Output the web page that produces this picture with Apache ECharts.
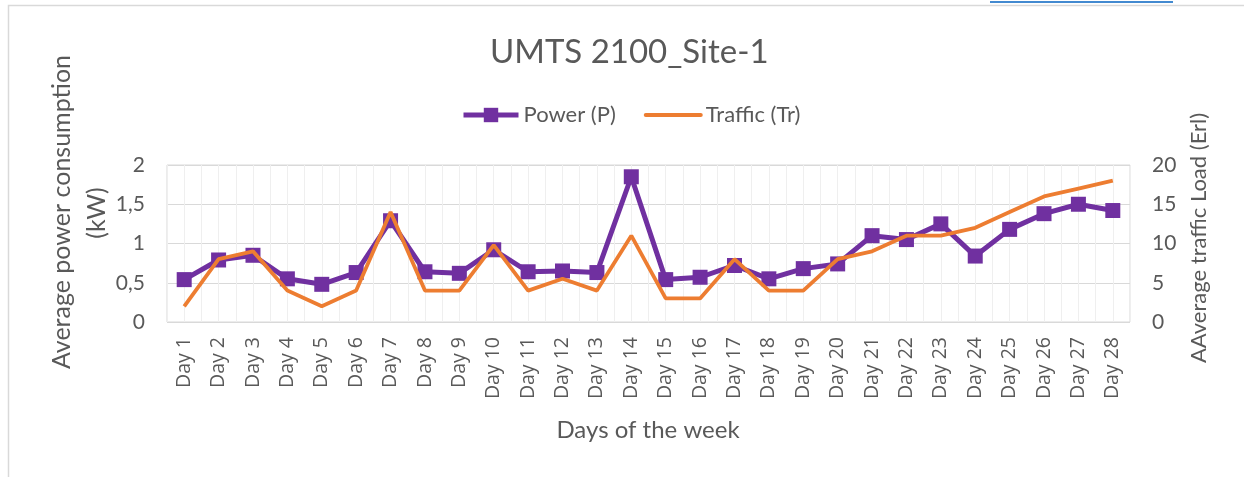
<!DOCTYPE html>
<html>
<head>
<meta charset="utf-8">
<script src="https://cdn.jsdelivr.net/npm/echarts@6/dist/echarts.min.js"></script>
<style>
html,body{margin:0;padding:0;background:#fff;}
#main{width:1244px;height:477px;}
</style>
</head>
<body>
<div id="main"></div>
<script>
const categories = ['Day 1','Day 2','Day 3','Day 4','Day 5','Day 6','Day 7','Day 8','Day 9','Day 10','Day 11','Day 12','Day 13','Day 14','Day 15','Day 16','Day 17','Day 18','Day 19','Day 20','Day 21','Day 22','Day 23','Day 24','Day 25','Day 26','Day 27','Day 28'];
const powerKW = [0.54,0.79,0.85,0.55,0.48,0.63,1.29,0.64,0.62,0.92,0.64,0.65,0.63,1.85,0.54,0.57,0.72,0.55,0.68,0.74,1.10,1.05,1.25,0.84,1.18,1.38,1.50,1.42];
const trafficErl = [2,8,9,4,2,4,14,4,4,9.8,4,5.5,4,11,3,3,8,4,4,8,9,11,11,12,14,16,17,18];
const leftTicks = {min:0, max:2, interval:0.5};
const rightTicks = {min:0, max:20, interval:5};

const FONT = 'Lato, "Open Sans", sans-serif';
const TXT = '#595959';
const chart = echarts.init(document.getElementById('main'), null, {renderer:'canvas'});
chart.setOption({
  backgroundColor:'#fff',
  animation:false,
  textStyle:{fontFamily:FONT,color:TXT},
  title:{text:'UMTS 2100_Site-1',left:485,top:31,textStyle:{fontFamily:FONT,fontSize:33,fontWeight:'normal',color:TXT}},
  legend:{left:456,top:99,itemWidth:55,itemHeight:18,itemGap:28,
    textStyle:{fontFamily:FONT,fontSize:22,color:TXT},
    data:[
      {name:'Power (P)',lineStyle:{width:5,color:'#7030A0'},itemStyle:{color:'#7030A0'}},
      {name:'Traffic (Tr)',lineStyle:{width:4,color:'#ED7D31',cap:'round'},itemStyle:{opacity:0}}
    ]},
  grid:{left:167,right:114,top:165,bottom:155,show:true,borderColor:'#d9d9d9',borderWidth:1},
  xAxis:[
    {type:'category',data:categories,boundaryGap:true,
     axisLine:{show:false},axisTick:{show:false},splitLine:{show:false},
     axisLabel:{rotate:90,margin:15,fontFamily:'"Open Sans", sans-serif',fontSize:19.5,color:TXT,interval:0}},
    {type:'value',min:0,max:56,interval:1,position:'bottom',
     axisLine:{show:false},axisTick:{show:false},axisLabel:{show:false},
     splitLine:{show:true,lineStyle:{color:'#efefef',width:1}}}
  ],
  yAxis:[
    {type:'value',min:leftTicks.min,max:leftTicks.max,interval:leftTicks.interval,
     axisLine:{show:false},axisTick:{show:false},
     splitLine:{lineStyle:{color:'#d9d9d9',width:1}},
     axisLabel:{margin:22,fontFamily:FONT,fontSize:21,color:TXT,formatter:v=>String(v).replace('.',',')}},
    {type:'value',min:rightTicks.min,max:rightTicks.max,interval:rightTicks.interval,
     axisLine:{show:false},axisTick:{show:false},splitLine:{show:false},
     axisLabel:{margin:22,fontFamily:FONT,fontSize:21,color:TXT}}
  ],
  series:[
    {name:'Power (P)',type:'line',data:powerKW,xAxisIndex:0,yAxisIndex:0,
     symbol:'rect',symbolSize:15,showAllSymbol:true,
     lineStyle:{color:'#7030A0',width:5},itemStyle:{color:'#7030A0'},z:2},
    {name:'Traffic (Tr)',type:'line',data:trafficErl,xAxisIndex:0,yAxisIndex:1,
     symbol:'none',lineStyle:{color:'#ED7D31',width:3.8},itemStyle:{color:'#ED7D31'},z:3}
  ],
  graphic:[
    {type:'rect',shape:{x:8.5,y:5.5,width:1400,height:600},style:{fill:'none',stroke:'#d9d9d9',lineWidth:1.5},silent:true,z:-1},
    {type:'line',shape:{x1:990,y1:2,x2:1173,y2:2},style:{stroke:'#0563C1',lineWidth:1.5},silent:true},
    {type:'text',x:62,y:212,rotation:Math.PI/2,style:{text:'Average power consumption',font:'25px '+FONT,fill:TXT,textAlign:'center',textVerticalAlign:'middle'}},
    {type:'text',x:97,y:213,rotation:Math.PI/2,style:{text:'(kW)',font:'25px '+FONT,fill:TXT,textAlign:'center',textVerticalAlign:'middle'}},
    {type:'text',x:1199,y:238,rotation:Math.PI/2,style:{text:'AAverage traffic Load (Erl)',font:'22px '+FONT,fill:TXT,textAlign:'center',textVerticalAlign:'middle'}},
    {type:'text',x:648,y:430,style:{text:'Days of the week',font:'24px '+FONT,fill:TXT,textAlign:'center',textVerticalAlign:'middle'}}
  ]
});
</script>
</body>
</html>
